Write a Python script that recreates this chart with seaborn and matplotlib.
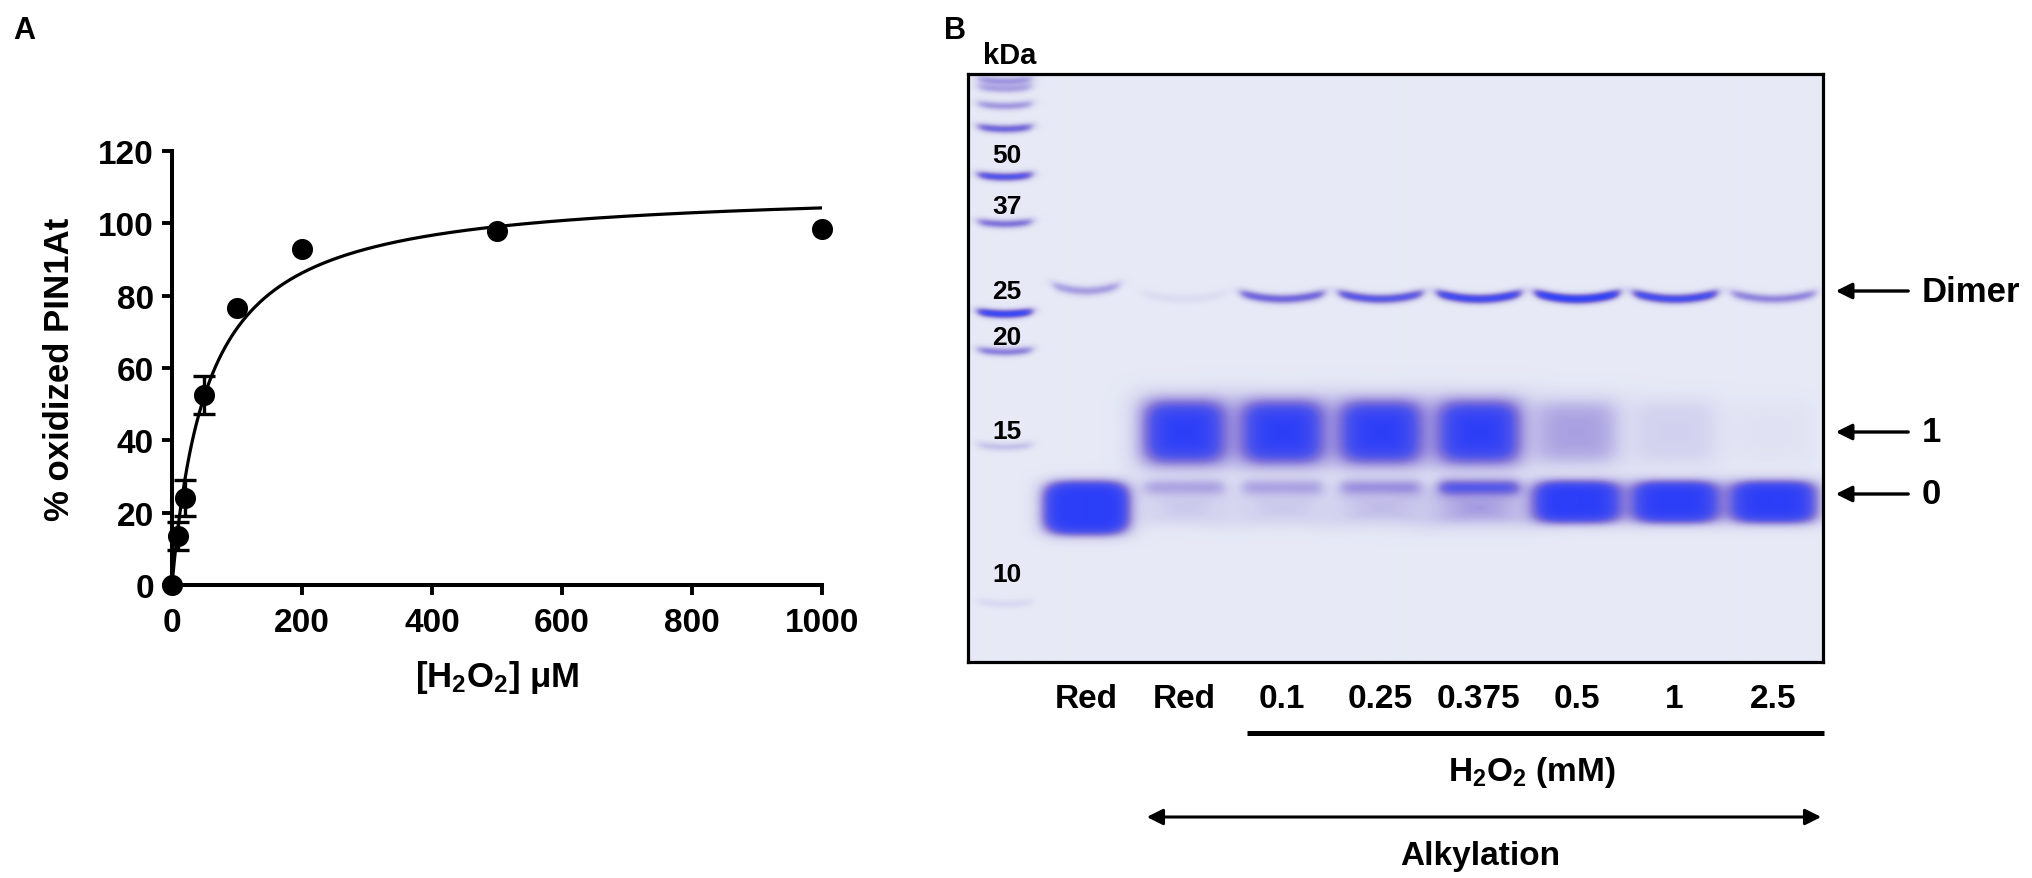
import numpy as np
import pandas as pd
import matplotlib
matplotlib.use("Agg")
import matplotlib.pyplot as plt
import seaborn as sns
from matplotlib.colors import LinearSegmentedColormap
from matplotlib.lines import Line2D
from matplotlib.patches import FancyArrowPatch

# ---------------- data : panel A ----------------
h2o2_uM = [0, 10, 20, 50, 100, 200, 500, 1000]
pct_oxidized = [0.0, 13.5, 24.0, 52.5, 76.5, 93.0, 98.0, 98.3]
pct_sem = [0.0, 3.8, 5.0, 5.2, 0.0, 0.0, 0.0, 0.0]
fit_bmax = 110.0          # hyperbolic fit
fit_kd = 55.0
x_ticks_A = [0, 200, 400, 600, 800, 1000]
y_ticks_A = [0, 20, 40, 60, 80, 100, 120]

# ---------------- data : panel B (gel) ----------------
lane_labels = ["Red", "Red", "0.1", "0.25", "0.375", "0.5", "1", "2.5"]
dimer_intensity = [0.38, 0.08, 0.62, 0.72, 0.85, 0.95, 0.82, 0.48]
dimer_migration = [217, 225, 225, 225, 225, 225, 225, 225]
band1_intensity = [0.0, 1.0, 1.0, 1.0, 1.0, 0.38, 0.16, 0.05]
band1_migration = 358
band0_top_intensity = [1.0, 0.30, 0.30, 0.36, 0.62, 1.0, 1.0, 1.0]
band0_body_intensity = [1.0, 0.20, 0.20, 0.26, 0.42, 1.0, 1.0, 1.0]
band0_migration = 428
ladder_kda = ["50", "37", "25", "20", "15", "10"]
ladder_label_migration = [81, 132, 217, 263, 357, 500]
ladder_band_migration = [7, 15, 32, 55, 103, 150, 240, 278, 373, 530]
ladder_band_intensity = [0.40, 0.35, 0.40, 0.62, 0.75, 0.55, 0.90, 0.50, 0.22, 0.10]
band_names = ["Dimer", "1", "0"]
band_name_migration = [217, 358, 420]

# ---------------- layout (pixels) ----------------
W, H = 2033, 879
def fx(p): return p / W
def fy(p): return 1 - p / H

sns.set_theme(style="ticks")
plt.rcParams["font.family"] = ["Liberation Sans", "DejaVu Sans"]
plt.rcParams["font.weight"] = "bold"
for k in ["text.color", "axes.labelcolor", "xtick.color", "ytick.color", "axes.edgecolor"]:
    plt.rcParams[k] = "black"
plt.rcParams["mathtext.fontset"] = "custom"
plt.rcParams["mathtext.rm"] = "Liberation Sans:bold"
plt.rcParams["mathtext.bf"] = "Liberation Sans:bold"
plt.rcParams["mathtext.it"] = "Liberation Sans:bold"

fig = plt.figure(figsize=(W / 100, H / 100), dpi=100)
fig.patch.set_facecolor("white")

# ================= Panel A =================
axA = fig.add_axes([fx(172), fy(586), (822 - 172) / W, (586 - 152) / H])
axA.set_facecolor("white")
dfA = pd.DataFrame({"x": h2o2_uM, "y": pct_oxidized, "sem": pct_sem})
xfit = np.linspace(0, 1000, 600)
yfit = fit_bmax * xfit / (fit_kd + xfit)
sns.lineplot(x=xfit, y=yfit, ax=axA, color="black", linewidth=2.3, zorder=3)
err = dfA[dfA["sem"] > 0]
axA.errorbar(err["x"], err["y"], yerr=err["sem"], fmt="none", ecolor="black",
             elinewidth=2.4, capsize=8, capthick=2.4, zorder=4, clip_on=False)
sns.scatterplot(data=dfA, x="x", y="y", ax=axA, s=230, color="black",
                edgecolor="black", linewidth=0, zorder=5, clip_on=False)
axA.set_xlim(0, 1000)
axA.set_ylim(0, 120)
axA.set_xticks(x_ticks_A)
axA.set_yticks(y_ticks_A)
axA.tick_params(axis="both", labelsize=24, width=2.8, length=7, color="black",
                labelcolor="black")
axA.tick_params(axis="x", pad=9)
axA.tick_params(axis="y", pad=6)
for lab in axA.get_xticklabels() + axA.get_yticklabels():
    lab.set_fontweight("bold")
for s in ["top", "right"]:
    axA.spines[s].set_visible(False)
for s in ["left", "bottom"]:
    axA.spines[s].set_linewidth(2.9)
    axA.spines[s].set_color("black")
axA.set_xlabel(r"[H$_2$O$_2$] μM", fontsize=25, fontweight="bold", labelpad=14, color="black")
axA.set_ylabel("% oxidized PIN1At", fontsize=25, fontweight="bold", labelpad=16, color="black")
fig.text(fx(24), fy(31), "A", fontsize=22, fontweight="bold", ha="center", va="center")

# ================= Panel B : gel =================
GX0, GX1, GY0, GY1 = 968, 1823, 75, 663
gw, gh = GX1 - GX0, GY1 - GY0
LANE0, PITCH, LADDER_X = 118.0, 98.1, 37.0
axB = fig.add_axes([fx(GX0), fy(GY1), gw / W, gh / H])

X, Y = np.meshgrid(np.arange(gw) + 0.5, np.arange(gh) + 0.5)

def sig(z):
    return 1.0 / (1.0 + np.exp(-z))

def thin_band(xc, yc, hw, hh, edge_x=3.0, smile=0.0):
    dx = X - xc
    yc_e = yc - smile * np.clip(dx / hw, -1.2, 1.2) ** 2
    dy = Y - yc_e
    return sig((hw - np.abs(dx)) / edge_x) * np.exp(-0.5 * (dy / hh) ** 2)

def blob(xc, yc, hw, hh, edge=4.0, p=4.0):
    dx, dy = X - xc, Y - yc
    r = ((np.abs(dx) / hw) ** p + (np.abs(dy) / hh) ** p) ** (1.0 / p)
    return sig(-(r - 1.0) * min(hw, hh) / edge)

I = np.zeros_like(X)
# ladder
for m, a in zip(ladder_band_migration, ladder_band_intensity):
    I += a * thin_band(LADDER_X, m, 27, 3.2, edge_x=3, smile=2.5)
# sample lanes
for i in range(len(lane_labels)):
    xc = LANE0 + PITCH * i
    I += dimer_intensity[i] * thin_band(xc, dimer_migration[i], 42 if i else 33, 3.6,
                                        edge_x=3, smile=6)
    I += band1_intensity[i] * blob(xc, band1_migration, 40, 31, edge=6)
    if band0_top_intensity[i] >= 0.99:
        I += band0_top_intensity[i] * blob(xc, band0_migration + (6 if i == 0 else 0),
                                           43, 21 + (6 if i == 0 else 0), edge=3)
    else:
        I += band0_top_intensity[i] * thin_band(xc, 413, 40, 6, edge_x=4)
        I += band0_body_intensity[i] * blob(xc, 434, 38, 14, edge=5)
I = np.clip(I, 0, 1)

gel_cmap = LinearSegmentedColormap.from_list(
    "gel", [(0.0, "#E7EAF6"), (0.15, "#D3D2EF"), (0.35, "#AEA7E3"),
            (0.55, "#8174DB"), (0.75, "#5055EB"), (1.0, "#2C3EF8")])
axB.imshow(gel_cmap(I), extent=(0, gw, gh, 0), aspect="auto", interpolation="bilinear")
axB.set_xlim(0, gw)
axB.set_ylim(gh, 0)
for s in axB.spines.values():
    s.set_visible(True)
    s.set_linewidth(2.3)
    s.set_color("black")
axB.set_yticks([])
axB.set_xticks([LANE0 + PITCH * i for i in range(len(lane_labels))])
axB.set_xticklabels(lane_labels, fontsize=24, fontweight="bold", color="black")
axB.tick_params(axis="x", length=0, pad=15)

for lab, m in zip(ladder_kda, ladder_label_migration):
    axB.text(LADDER_X + 2, m, lab, fontsize=19, fontweight="bold", ha="center",
             va="center", color="black")

# band arrows and names
for name, m in zip(band_names, band_name_migration):
    yfig = fy(GY0 + m)
    fig.add_artist(FancyArrowPatch((fx(1911), yfig), (fx(1833), yfig),
                                   transform=fig.transFigure, arrowstyle="-|>",
                                   mutation_scale=24, lw=2.4, color="black"))
    fig.text(fx(1922), yfig, name, fontsize=25, fontweight="bold", ha="left", va="center")

fig.text(fx(955), fy(31), "B", fontsize=22, fontweight="bold", ha="center", va="center")
fig.text(fx(1010), fy(56), "kDa", fontsize=21, fontweight="bold", ha="center", va="center")

# H2O2 bracket line
fig.add_artist(Line2D([fx(1247), fx(1824)], [fy(734), fy(734)], transform=fig.transFigure,
                      color="black", lw=3.6, solid_capstyle="butt"))
fig.text(fx(1532), fy(773), r"H$_2$O$_2$ (mM)", fontsize=24, fontweight="bold",
         ha="center", va="center")
# alkylation double arrow
fig.add_artist(FancyArrowPatch((fx(1144), fy(818)), (fx(1824), fy(818)),
                               transform=fig.transFigure, arrowstyle="<|-|>",
                               mutation_scale=24, lw=2.2, color="black"))
fig.text(fx(1480), fy(857), "Alkylation", fontsize=24, fontweight="bold",
         ha="center", va="center")

fig.savefig("out.png", dpi=100, facecolor="white")
